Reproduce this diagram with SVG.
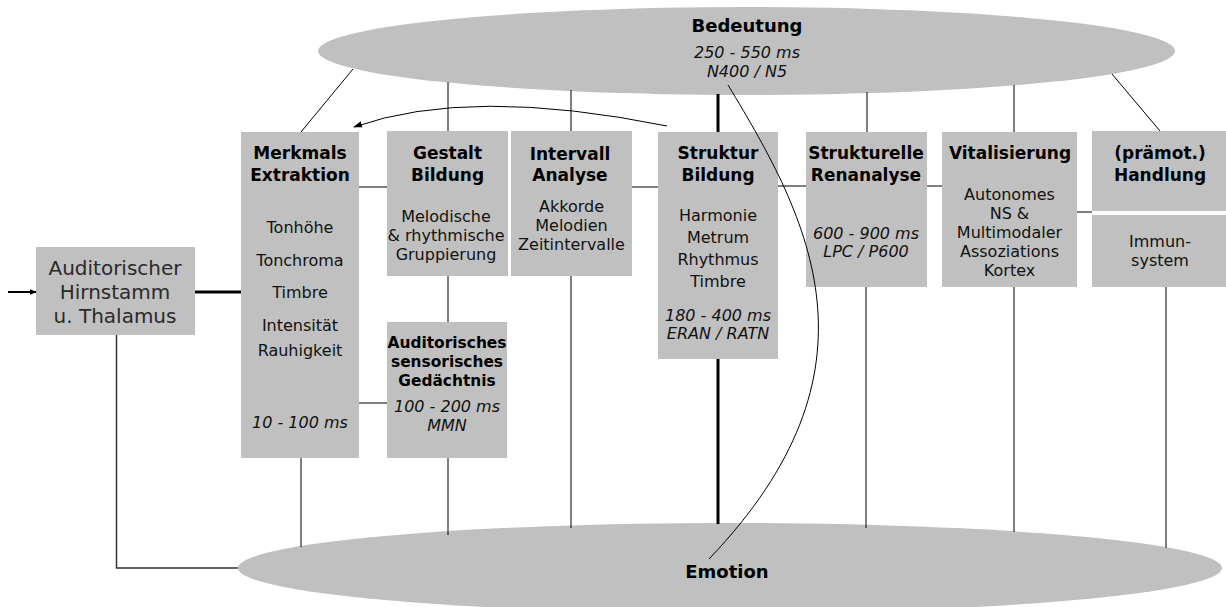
<svg xmlns="http://www.w3.org/2000/svg" width="1226" height="607" viewBox="0 0 1226 607">
<style>
.box{fill:#c0c0c0}
.h{font-family:"DejaVu Sans",Verdana,sans-serif;font-weight:bold;font-size:17px;fill:#000;text-anchor:middle}
.hs{font-family:"DejaVu Sans",Verdana,sans-serif;font-weight:bold;font-size:15.4px;fill:#000;text-anchor:middle}
.t{font-family:"DejaVu Sans",Verdana,sans-serif;font-size:16px;fill:#111;text-anchor:middle}
.i{font-family:"DejaVu Sans",Verdana,sans-serif;font-style:italic;font-size:16px;fill:#111;text-anchor:middle}
.big{font-family:"DejaVu Sans",Verdana,sans-serif;font-size:20px;fill:#2a2a2a;text-anchor:middle}
.e{font-family:"DejaVu Sans",Verdana,sans-serif;font-weight:bold;font-size:18px;fill:#000;text-anchor:middle}
.ln{stroke:#000;stroke-width:1;fill:none}
.thk{stroke:#000;stroke-width:3;fill:none}
</style>
<defs>
<marker id="ah" viewBox="0 0 10 10" refX="9" refY="5" markerWidth="7" markerHeight="7" orient="auto" markerUnits="userSpaceOnUse">
<path d="M0,1 L10,5 L0,9 z" fill="#000"/>
</marker>
<marker id="ah2" viewBox="0 0 10 10" refX="9" refY="5" markerWidth="9" markerHeight="9" orient="auto" markerUnits="userSpaceOnUse">
<path d="M0,1.5 L10,5 L0,8.5 z" fill="#000"/>
</marker>
</defs>

<g id="bedeutung">
<ellipse class="box" cx="746.5" cy="51" rx="428.5" ry="44"/>
<text class="e" x="747" y="32">Bedeutung</text>
<text class="i" x="747" y="58">250 - 550 ms</text>
<text class="i" x="747" y="77">N400 / N5</text>
</g>

<g id="emotion">
<ellipse class="box" cx="730" cy="568" rx="492" ry="45"/>
<text class="e" x="727" y="578">Emotion</text>
</g>

<g id="hirnstamm">
<rect class="box" x="36" y="247" width="159" height="88"/>
<text class="big" x="115" y="275">Auditorischer</text>
<text class="big" x="115" y="299">Hirnstamm</text>
<text class="big" x="115" y="323">u. Thalamus</text>
</g>

<g id="merkmals">
<rect class="box" x="241" y="132" width="118" height="326"/>
<text class="h" x="300" y="159">Merkmals</text>
<text class="h" x="300" y="181">Extraktion</text>
<text class="t" x="300" y="233">Tonhöhe</text>
<text class="t" x="300" y="266">Tonchroma</text>
<text class="t" x="300" y="298">Timbre</text>
<text class="t" x="300" y="331">Intensität</text>
<text class="t" x="300" y="356">Rauhigkeit</text>
<text class="i" x="300" y="428">10 - 100 ms</text>
</g>

<g id="gestalt">
<rect class="box" x="387" y="131" width="121" height="145"/>
<text class="h" x="447.5" y="159">Gestalt</text>
<text class="h" x="447.5" y="181">Bildung</text>
<text class="t" x="446" y="222">Melodische</text>
<text class="t" x="446" y="241">&amp; rhythmische</text>
<text class="t" x="446" y="260">Gruppierung</text>
</g>

<g id="gedaechtnis">
<rect class="box" x="387" y="322" width="120" height="136"/>
<text class="hs" x="447" y="348" textLength="119" lengthAdjust="spacingAndGlyphs">Auditorisches</text>
<text class="hs" x="447" y="367">sensorisches</text>
<text class="hs" x="447" y="386">Gedächtnis</text>
<text class="i" x="447" y="412">100 - 200 ms</text>
<text class="i" x="447" y="431">MMN</text>
</g>

<g id="intervall">
<rect class="box" x="511" y="131" width="121" height="145"/>
<text class="h" x="570" y="160">Intervall</text>
<text class="h" x="570" y="181">Analyse</text>
<text class="t" x="571.5" y="212">Akkorde</text>
<text class="t" x="571.5" y="231">Melodien</text>
<text class="t" x="571.5" y="250">Zeitintervalle</text>
</g>

<g id="struktur">
<rect class="box" x="658" y="132" width="120" height="227"/>
<text class="h" x="718" y="159">Struktur</text>
<text class="h" x="718" y="181">Bildung</text>
<text class="t" x="718" y="221">Harmonie</text>
<text class="t" x="718" y="243">Metrum</text>
<text class="t" x="718" y="265">Rhythmus</text>
<text class="t" x="718" y="287">Timbre</text>
<text class="i" x="718" y="321">180 - 400 ms</text>
<text class="i" x="718" y="339">ERAN / RATN</text>
</g>

<g id="reanalyse">
<rect class="box" x="806" y="132" width="121" height="155"/>
<text class="h" x="866" y="159">Strukturelle</text>
<text class="h" x="866" y="181">Renanalyse</text>
<text class="i" x="866" y="239">600 - 900 ms</text>
<text class="i" x="866" y="257">LPC / P600</text>
</g>

<g id="vitalisierung">
<rect class="box" x="942" y="132" width="135" height="155"/>
<text class="h" x="1010" y="159">Vitalisierung</text>
<text class="t" x="1009.5" y="200">Autonomes</text>
<text class="t" x="1009.5" y="219">NS &amp;</text>
<text class="t" x="1009.5" y="238">Multimodaler</text>
<text class="t" x="1009.5" y="257">Assoziations</text>
<text class="t" x="1009.5" y="276">Kortex</text>
</g>

<g id="handlung">
<rect class="box" x="1092" y="131" width="134" height="80"/>
<text class="h" x="1160" y="159">(prämot.)</text>
<text class="h" x="1160" y="181">Handlung</text>
</g>

<g id="immunsystem">
<rect class="box" x="1092" y="215" width="134" height="72"/>
<text class="t" x="1160" y="247">Immun-</text>
<text class="t" x="1160" y="266">system</text>
</g>

<g id="connectors">
<line class="ln" x1="8" y1="292" x2="36" y2="292" stroke-width="2" style="stroke-width:2" marker-end="url(#ah)"/>
<line class="thk" x1="195" y1="292" x2="241" y2="292"/>
<polyline points="116.5,335 116.5,568 238,568" fill="none" stroke="#333" stroke-width="1.5"/>
<line class="ln" x1="359" y1="187" x2="387" y2="187"/>
<line class="ln" x1="359" y1="403" x2="387" y2="403"/>
<line class="ln" x1="448" y1="276" x2="448" y2="322"/>
<line class="ln" x1="632" y1="187" x2="658" y2="187"/>
<line class="ln" x1="778" y1="186" x2="806" y2="186"/>
<line class="ln" x1="927" y1="186" x2="942" y2="186"/>
<line class="ln" x1="1077" y1="212" x2="1092" y2="212"/>
<line class="ln" x1="353" y1="69" x2="301" y2="132"/>
<line class="ln" x1="448" y1="82" x2="448" y2="131"/>
<line class="ln" x1="571" y1="90" x2="571" y2="131"/>
<line class="thk" x1="718" y1="94" x2="718" y2="132"/>
<line class="ln" x1="867" y1="92" x2="867" y2="132"/>
<line class="ln" x1="1014" y1="85" x2="1014" y2="132"/>
<line class="ln" x1="1112" y1="74" x2="1160" y2="131"/>
<line class="ln" x1="301" y1="458" x2="301" y2="547"/>
<line class="ln" x1="448" y1="458" x2="448" y2="535"/>
<line class="ln" x1="571" y1="276" x2="571" y2="528"/>
<line class="thk" x1="718" y1="359" x2="718" y2="524"/>
<line class="ln" x1="866" y1="287" x2="866" y2="528"/>
<line class="ln" x1="1014" y1="287" x2="1014" y2="532"/>
<line class="ln" x1="1166" y1="287" x2="1166" y2="548"/>
<path class="ln" d="M667,126 Q470,86 354,127" marker-end="url(#ah2)"/>
<path class="ln" d="M728,85 C810,220 890,370 709,559"/>
</g>
</svg>
